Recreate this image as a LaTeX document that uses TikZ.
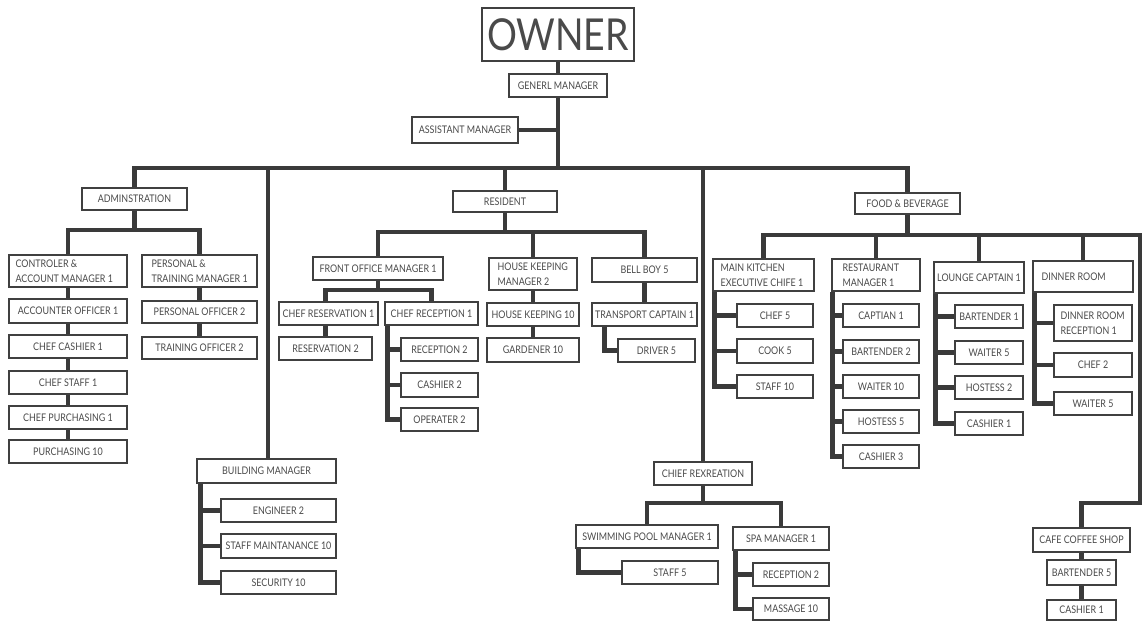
\documentclass[tikz,border=0pt]{standalone}
\usepackage{fontspec}
\setmainfont{Lato}[FakeStretch=0.85]
\definecolor{boxc}{HTML}{404040}
\definecolor{txtc}{HTML}{4A4A4A}
\definecolor{lnc}{HTML}{3A3A3A}
\tikzset{
 box/.style={draw=boxc, line width=1.2pt, fill=white, inner sep=0pt, text=txtc,
   font=\fontsize{10.5}{15}\selectfont, align=center},
 lbl/.style={anchor=west, align=left, inner sep=0pt, text=txtc,
   font=\fontsize{10.5}{15}\selectfont},
 conn/.style={draw=lnc, line width=4.5pt},
}
% centred box
\newcommand\bx[7][]{%
 \pgfmathsetmacro\bxcx{(#3+#5)/2}%
 \pgfmathsetmacro\bxcy{(#4+#6)/2}%
 \pgfmathsetmacro\bxw{#5-#3}%
 \pgfmathsetmacro\bxh{#6-#4}%
 \node[box,minimum width=\bxw pt,minimum height=\bxh pt,#1] (#2) at (\bxcx,\bxcy) {#7};}
% left-aligned box, optional = left inset
\newcommand\bxl[7][8]{%
 \pgfmathsetmacro\bxcx{(#3+#5)/2}%
 \pgfmathsetmacro\bxcy{(#4+#6)/2}%
 \pgfmathsetmacro\bxw{#5-#3}%
 \pgfmathsetmacro\bxh{#6-#4}%
 \node[box,minimum width=\bxw pt,minimum height=\bxh pt,
   label={[lbl,xshift=#1pt]west:{#7}}] (#2) at (\bxcx,\bxcy) {};}
\begin{document}
\begin{tikzpicture}[x=1pt,y=-1pt]
\useasboundingbox[fill=white] (0,0) rectangle (1144,621);
% top
\bx[font=\fontsize{44}{44}\selectfont, line width=2pt]{owner}{482}{8}{634}{61}{OWNER}
\bx{gm}{509}{74}{607}{97}{GENERL MANAGER}
\bx{am}{412}{117}{518}{143}{ASSISTANT MANAGER}
\bx{adm}{82}{188}{187}{210}{ADMINSTRATION}
\bx{res}{453}{191}{557}{212}{RESIDENT}
\bx{fb}{855}{193}{960}{214}{FOOD \& BEVERAGE}
% administration
\bxl[7]{ctrl}{9}{255}{127}{287}{CONTROLER \&\\ACCOUNT MANAGER 1}
\bx{acc}{9}{299}{127}{323}{ACCOUNTER OFFICER 1}
\bx{ccash}{9}{335}{127}{358}{CHEF CASHIER 1}
\bx{cstaff}{9}{371}{127}{394}{CHEF STAFF 1}
\bx{cpur}{9}{406}{127}{429}{CHEF PURCHASING 1}
\bx{pur}{9}{440}{127}{463}{PURCHASING 10}
\bxl[10]{pers}{142}{255}{257}{287}{PERSONAL \&\\TRAINING MANAGER 1}
\bx{po}{142}{301}{257}{323}{PERSONAL OFFICER 2}
\bx{to}{142}{337}{257}{359}{TRAINING OFFICER 2}
% building
\bx{bm}{197}{459}{336}{483}{BUILDING MANAGER}
\bx{eng}{221}{499}{336}{522}{ENGINEER 2}
\bx{smt}{221}{534}{336}{558}{STAFF MAINTANANCE 10}
\bx{sec}{221}{571}{336}{594}{SECURITY 10}
% resident
\bx{fo}{313}{257}{443}{280}{FRONT OFFICE MANAGER 1}
\bx{cres}{279}{302}{378}{325}{CHEF RESERVATION 1}
\bx{res2}{279}{337}{372}{360}{RESERVATION 2}
\bx{crec}{385}{302}{478}{325}{CHEF RECEPTION 1}
\bx{rec2}{401}{338}{478}{361}{RECEPTION 2}
\bx{cas2}{401}{373}{478}{397}{CASHIER 2}
\bx{op}{401}{408}{478}{431}{OPERATER 2}
\bxl[9]{hkm}{489}{258}{577}{290}{HOUSE KEEPING\\MANAGER 2}
\bx{hk}{487}{303}{579}{326}{HOUSE KEEPING 10}
\bx{gard}{487}{338}{579}{362}{GARDENER 10}
\bx{bb}{592}{258}{697}{282}{BELL BOY 5}
\bx{tc}{592}{303}{697}{326}{TRANSPORT CAPTAIN 1}
\bx{drv}{618}{339}{695}{362}{DRIVER 5}
% recreation
\bx{cr}{654}{462}{752}{485}{CHIEF REXREATION}
\bx{spm}{576}{525}{718}{548}{SWIMMING POOL MANAGER 1}
\bx{st5}{622}{561}{718}{584}{STAFF 5}
\bx{spa}{733}{527}{829}{550}{SPA MANAGER 1}
\bx{recs}{753}{563}{829}{586}{RECEPTION 2}
\bx{mas}{753}{598}{829}{620}{MASSAGE 10}
% food & beverage
\bxl[8]{mk}{713}{259}{814}{291}{MAIN KITCHEN\\EXECUTIVE CHIFE 1}
\bx{ch5}{737}{304}{813}{327}{CHEF 5}
\bx{ck5}{737}{339}{813}{363}{COOK 5}
\bx{sf10}{737}{375}{813}{398}{STAFF 10}
\bxl[11]{rm}{832}{259}{920}{291}{RESTAURANT\\MANAGER 1}
\bx{cap}{843}{304}{919}{327}{CAPTIAN 1}
\bx{bt2}{843}{340}{919}{363}{BARTENDER 2}
\bx{w10}{843}{375}{919}{398}{WAITER 10}
\bx{h5}{843}{410}{919}{433}{HOSTESS 5}
\bx{cs3}{843}{445}{919}{468}{CASHIER 3}
\bx{lc}{934}{262}{1024}{293}{LOUNGE CAPTAIN 1}
\bx{bt1}{955}{305}{1023}{328}{BARTENDER 1}
\bx{w5}{955}{341}{1023}{364}{WAITER 5}
\bx{h2}{955}{376}{1023}{399}{HOSTESS 2}
\bx{cs1}{955}{412}{1023}{435}{CASHIER 1}
\bxl[9]{dr}{1033}{261}{1133}{292}{DINNER ROOM}
\bxl[7]{drr}{1054}{305}{1132}{341}{DINNER ROOM\\RECEPTION 1}
\bx{c2}{1054}{353}{1132}{377}{CHEF 2}
\bx{w5b}{1054}{392}{1132}{415}{WAITER 5}
\bx{cafe}{1033}{528}{1130}{552}{CAFE COFFEE SHOP}
\bx{bt5}{1047}{560}{1116}{585}{BARTENDER 5}
\bx{csh}{1047}{600}{1116}{620}{CASHIER 1}

% ---- connectors ----
\coordinate (bar) at (558,168);
\coordinate (amj) at (558,130);
\draw[conn] (owner.south) -- (gm.north);
\draw[conn] (gm.south) -- (bar);
\draw[conn] (am.east) -- (amj);
\draw[conn] (adm.north) |- (bar) -| (fb.north);
\draw[conn] (res.north) -- (res.north |- bar);
\coordinate (bmtop) at ([xshift=1.5pt]bm.north);
\draw[conn] (bmtop) -- (bmtop |- bar);
\draw[conn] (cr.north) -- (cr.north |- bar);
% administration
\coordinate (admj) at (134.5,230);
\draw[conn] (adm.south) -- (admj);
\draw[conn] (ctrl.north) |- (admj) -| (pers.north);
\draw[conn] (ctrl.south) -- (acc.north);
\draw[conn] (acc.south) -- (ccash.north);
\draw[conn] (ccash.south) -- (cstaff.north);
\draw[conn] (cstaff.south) -- (cpur.north);
\draw[conn] (cpur.south) -- (pur.north);
\draw[conn] (pers.south) -- (po.north);
\draw[conn] (po.south) -- (to.north);
% building
\coordinate (bmS) at ([xshift=4pt]bm.south west);
\draw[conn] (bmS) |- (sec.west);
\draw[conn] (eng.west) -- (eng.west -| bmS);
\draw[conn] (smt.west) -- (smt.west -| bmS);
% resident
\coordinate (resj) at (505,232);
\draw[conn] (res.south) -- (resj);
\draw[conn] (fo.north) |- (resj) -| (bb.north);
\draw[conn] (hkm.north) -- (hkm.north |- resj);
\coordinate (foj) at (378,290);
\draw[conn] (fo.south) -- (foj);
\draw[conn] (cres.north -| res2.north) |- (foj) -| (crec.north);
\draw[conn] (cres.south -| res2.north) -- (res2.north);
\coordinate (crecS) at ([xshift=3pt]crec.south west);
\draw[conn] (crecS) |- (op.west);
\draw[conn] (rec2.west) -- (rec2.west -| crecS);
\draw[conn] (cas2.west) -- (cas2.west -| crecS);
\draw[conn] (hkm.south) -- (hk.north);
\draw[conn] (hk.south) -- (gard.north);
\draw[conn] (bb.south) -- (tc.north);
\coordinate (tcS) at ([xshift=13pt]tc.south west);
\draw[conn] (tcS) |- (drv.west);
% recreation
\coordinate (crj) at (703,503);
\draw[conn] (cr.south) -- (crj);
\draw[conn] (spm.north) |- (crj) -| (spa.north);
\coordinate (spmS) at ([xshift=3pt]spm.south west);
\draw[conn] (spmS) |- (st5.west);
\coordinate (spaS) at ([xshift=3pt]spa.south west);
\draw[conn] (spaS) |- (mas.west);
\draw[conn] (recs.west) -- (recs.west -| spaS);
% food & beverage
\coordinate (fbj) at (907.5,235);
\coordinate (fbR) at (1140,235);
\coordinate (cafeT) at (1140,503);
\draw[conn] (fb.south) -- (fbj);
\draw[conn] (mk.north) |- (fbR) -- (cafeT) -| (cafe.north);
\draw[conn] (rm.north) -- (rm.north |- fbj);
\draw[conn] (lc.north) -- (lc.north |- fbj);
\draw[conn] (dr.north) -- (dr.north |- fbj);
\draw[conn] (cafe.south) -- (bt5.north);
\draw[conn] (bt5.south) -- (csh.north);
\coordinate (mkS) at ([xshift=2pt]mk.south west);
\draw[conn] (mkS) |- (sf10.west);
\draw[conn] (ch5.west) -- (ch5.west -| mkS);
\draw[conn] (ck5.west) -- (ck5.west -| mkS);
\coordinate (rmS) at ([xshift=1pt]rm.south west);
\draw[conn] (rmS) |- (cs3.west);
\draw[conn] (cap.west) -- (cap.west -| rmS);
\draw[conn] (bt2.west) -- (bt2.west -| rmS);
\draw[conn] (w10.west) -- (w10.west -| rmS);
\draw[conn] (h5.west) -- (h5.west -| rmS);
\coordinate (lcS) at ([xshift=2pt]lc.south west);
\draw[conn] (lcS) |- (cs1.west);
\draw[conn] (bt1.west) -- (bt1.west -| lcS);
\draw[conn] (w5.west) -- (w5.west -| lcS);
\draw[conn] (h2.west) -- (h2.west -| lcS);
\coordinate (drS) at ([xshift=2pt]dr.south west);
\draw[conn] (drS) |- (w5b.west);
\draw[conn] (drr.west) -- (drr.west -| drS);
\draw[conn] (c2.west) -- (c2.west -| drS);
\end{tikzpicture}
\end{document}
